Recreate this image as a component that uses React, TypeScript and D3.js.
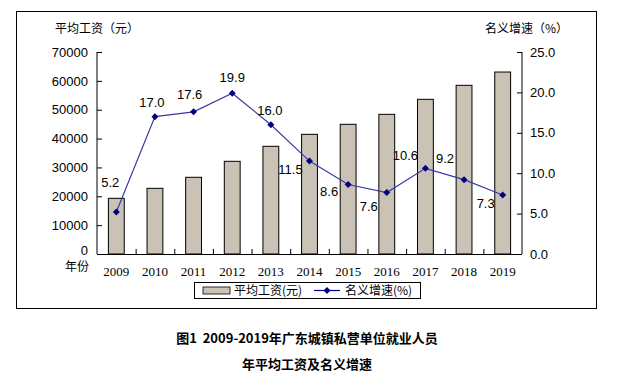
import React from "react";
import * as d3 from "d3";

const years = ["2009", "2010", "2011", "2012", "2013", "2014", "2015", "2016", "2017", "2018", "2019"];
const wages = [19300, 22760, 26580, 32120, 37320, 41470, 44940, 48400, 53600, 58450, 63060];
const growth = [5.2, 17.0, 17.6, 19.9, 16.0, 11.5, 8.6, 7.6, 10.6, 9.2, 7.3];
const leftTicks = [0, 10000, 20000, 30000, 40000, 50000, 60000, 70000];
const rightTicks = [0, 5, 10, 15, 20, 25];

// label offsets (dx, dy) from each point
const labelDx = [-6, -3, -4, 0, -1, -19, -19, -18, -20, -19, -17];
const labelDy = [-30, -14, -17, -16, -14, 8, 7, 14, -13, -21, 8];

const W = 617;
const H = 378;
const L = 97, R = 522, T = 52, B = 254;

const SANS = "'Liberation Sans', Arial, sans-serif";
const CJK = "'Noto Sans CJK SC', sans-serif";
const SERIF = "'Liberation Serif', 'Times New Roman', serif";

export default function App() {
  const x = d3.scaleBand<string>().domain(years).range([L, R]).paddingInner(0).paddingOuter(0);
  const yL = d3.scaleLinear().domain([0, 70000]).range([B, T]);
  const yR = d3.scaleLinear().domain([0, 25]).range([B, T]);
  const bw = x.bandwidth() * 0.41;
  const cx = (d: string) => (x(d) as number) + x.bandwidth() / 2;
  const line = d3.line<number>().x((_, i) => cx(years[i])).y((v) => yR(v));
  const diamond = (px: number, py: number, r = 3.5) =>
    `M${px},${py - r}L${px + r},${py}L${px},${py + r}L${px - r},${py}Z`;
  const barFill = "#cac2b5";
  const lineColor = "#3a3aa6";
  const markColor = "#000080";

  return (
    <svg width={W} height={H} style={{ position: "absolute", left: 0, top: 0, background: "#fff" }}>
      <rect x={16.5} y={11.5} width={580} height={297} fill="#fff" stroke="#000" strokeWidth={1} />
      {/* axis titles */}
      <text x={55} y={33} fontFamily={CJK} fontSize={12} fill="#000">平均工资（元）</text>
      <text x={485} y={33} fontFamily={CJK} fontSize={12} fill="#000">名义增速（%）</text>

      {/* bars */}
      {years.map((yr, i) => (
        <rect key={yr} x={cx(yr) - bw / 2} y={yL(wages[i])} width={bw} height={B - yL(wages[i])}
          fill={barFill} stroke="#000" strokeWidth={1} />
      ))}

      {/* axes */}
      <line x1={L} x2={L} y1={T} y2={B} stroke="#000" />
      <line x1={R} x2={R} y1={T} y2={B} stroke="#000" />
      <line x1={L} x2={R} y1={B + 0.5} y2={B + 0.5} stroke="#000" />
      {leftTicks.map((t) => (
        <g key={"l" + t}>
          <line x1={L} x2={L + 5} y1={yL(t) + 0.5} y2={yL(t) + 0.5} stroke="#000" />
          {t > 0 && (
            <text x={88} y={yL(t)} dy="0.36em" textAnchor="end" fontFamily={SANS} fontSize={13} fill="#000">{t}</text>
          )}
        </g>
      ))}
      <text x={88} y={B - 4} dy="0.36em" textAnchor="end" fontFamily={SANS} fontSize={13} fill="#000">0</text>
      <text x={65} y={271} fontFamily={CJK} fontSize={12} fill="#000">年份</text>
      {rightTicks.map((t) => (
        <g key={"r" + t}>
          <line x1={R - 5} x2={R} y1={yR(t) + 0.5} y2={yR(t) + 0.5} stroke="#000" />
          <text x={530} y={yR(t)} dy="0.36em" fontFamily={SANS} fontSize={13} fill="#000">{t.toFixed(1)}</text>
        </g>
      ))}
      {years.slice(1).map((yr) => (
        <line key={"x" + yr} x1={(x(yr) as number) + 0.5} x2={(x(yr) as number) + 0.5} y1={B - 5} y2={B} stroke="#000" />
      ))}
      {years.map((yr) => (
        <text key={"xl" + yr} x={cx(yr)} y={271} dy="0.36em" textAnchor="middle" fontFamily={SERIF} fontSize={13} fill="#000">{yr}</text>
      ))}

      {/* line */}
      <path d={line(growth) || ""} fill="none" stroke={lineColor} strokeWidth={1.2} />
      {growth.map((v, i) => (
        <path key={"m" + i} d={diamond(cx(years[i]), yR(v))} fill={markColor} />
      ))}
      {growth.map((v, i) => (
        <text key={"gl" + i} x={cx(years[i]) + labelDx[i]} y={yR(v) + labelDy[i]} dy="0.36em" textAnchor="middle"
          fontFamily={SANS} fontSize={13} fill="#000">{v.toFixed(1)}</text>
      ))}

      {/* legend */}
      <rect x={194.5} y={282.5} width={226} height={16} fill="#fff" stroke="#000" />
      <rect x={203} y={287} width={27} height={7} fill={barFill} stroke="#000" strokeWidth={0.8} />
      <text x={234} y={290.5} dy="0.36em" fontFamily={CJK} fontSize={12} fill="#000">平均工资(元)</text>
      <line x1={314} x2={340} y1={290.5} y2={290.5} stroke={markColor} strokeWidth={1.2} />
      <path d={diamond(327, 290.5)} fill={markColor} />
      <text x={345} y={290.5} dy="0.36em" fontFamily={CJK} fontSize={12} fill="#000">名义增速(%)</text>

      {/* title */}
      <text x={307} y={338} dy="0.36em" textAnchor="middle" fontFamily={CJK} fontSize={13} fontWeight="bold" fill="#000" xmlSpace="preserve">图1  2009-2019年广东城镇私营单位就业人员</text>
      <text x={307} y={364} dy="0.36em" textAnchor="middle" fontFamily={CJK} fontSize={13} fontWeight="bold" fill="#000">年平均工资及名义增速</text>
    </svg>
  );
}
